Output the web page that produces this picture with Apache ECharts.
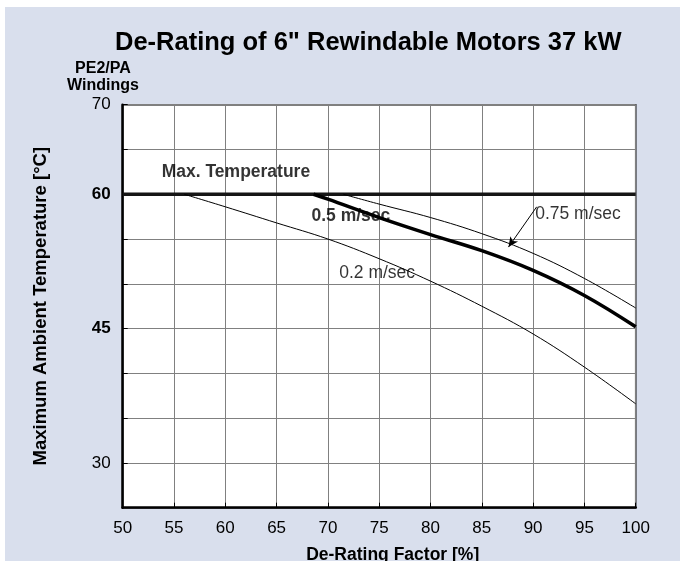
<!DOCTYPE html>
<html><head><meta charset="utf-8">
<script src="https://cdn.jsdelivr.net/npm/echarts@6/dist/echarts.min.js"></script>
<style>
html,body{margin:0;padding:0;background:#fff;}
#c{position:absolute;left:5px;top:7px;width:675px;height:554px;}
</style>
</head><body><div id="c"></div>
<script>
// ---- data ----
const titleText = 'De-Rating of 6" Rewindable Motors 37 kW';
const windingText = 'PE2/PA\nWindings';
const xName = 'De-Rating Factor [%]';
const yName = 'Maximum Ambient Temperature [°C]';
const xMin = 50, xMax = 100, xStep = 5;
const yMin = 25, yMax = 70, yStep = 5;
const yShownLabels = [30, 45, 60, 70];
const yBoldLabels = [45, 60];

const maxTemp = [[50, 60], [100, 60]];
const speed02 = [[56, 60], [60, 58.6], [65, 56.8], [70, 55.0], [75, 52.8], [80, 50.3], [85, 47.5], [90, 44.4], [95, 40.7], [100, 36.6]];
const speed05 = [[68.6, 60], [70, 59.45], [75, 57.4], [80, 55.5], [85, 53.7], [90, 51.5], [95, 48.7], [100, 45.2]];
const speed075 = [[71.5, 60], [75, 58.9], [80, 57.4], [85, 55.6], [90, 53.4], [95, 50.6], [100, 47.3]];

const labelMax = {text: 'Max. Temperature', at: [53.8, 62.5], bold: true};
const label05 = {text: '0.5 m/sec', at: [68.4, 57.5], bold: true};
const label02 = {text: '0.2 m/sec', at: [71.1, 51.2], bold: false};
const label075 = {text: '0.75 m/sec', at: [90.2, 57.8], bold: false};
const arrow075 = [[90.35, 58.6], [87.6, 54.1]];

// ---- chart ----
const FONT = '"Liberation Sans", Arial, Helvetica, sans-serif';
const chart = echarts.init(document.getElementById('c'), null, {renderer: 'canvas'});

function labelPoint(l) {
  return {
    value: l.at,
    label: {
      show: true, position: 'right', distance: 0,
      formatter: l.text,
      fontFamily: FONT, fontSize: 17.5,
      fontWeight: l.bold ? 'bold' : 'normal',
      color: '#000'
    }
  };
}

const curveStyle = (w) => ({color: '#000', width: w});

chart.setOption({
  backgroundColor: '#d9dfed',
  animation: false,
  textStyle: {fontFamily: FONT},
  title: {
    text: titleText,
    left: 105, top: 18,
    textStyle: {fontFamily: FONT, fontSize: 25.5, fontWeight: 'bold', color: '#000'}
  },
  graphic: [{
    type: 'text', left: 62, top: 53,
    style: {text: windingText, font: 'bold 16px ' + FONT, fill: '#000', textAlign: 'center', lineHeight: 17}
  }],
  grid: {
    left: 117.7, top: 97.7, right: 44.3, bottom: 53.3,
    containLabel: false, outerBoundsMode: 'none',
    show: true, backgroundColor: '#fff', borderColor: '#000', borderWidth: 1.5
  },
  xAxis: {
    type: 'value', min: xMin, max: xMax, interval: xStep,
    name: xName, nameLocation: 'middle', nameGap: 38,
    nameTextStyle: {fontFamily: FONT, fontSize: 17.5, fontWeight: 'bold', color: '#000', verticalAlign: 'top', padding: [0, 0, 0, 27]},
    axisLine: {show: true, lineStyle: {color: '#000', width: 2.5}},
    axisTick: {show: true, inside: true, length: 5, lineStyle: {color: '#000', width: 1}},
    axisLabel: {fontFamily: FONT, fontSize: 17, color: '#000', margin: 12},
    splitLine: {show: true, lineStyle: {color: '#808080', width: 1}}
  },
  yAxis: {
    type: 'value', min: yMin, max: yMax, interval: yStep,
    name: yName, nameLocation: 'middle', nameGap: 72,
    nameTextStyle: {fontFamily: FONT, fontSize: 18.5, fontWeight: 'bold', color: '#000'},
    axisLine: {show: true, lineStyle: {color: '#000', width: 2.5}},
    axisTick: {show: true, inside: true, length: 5, lineStyle: {color: '#000', width: 1}},
    axisLabel: {
      margin: 12, color: '#000', fontFamily: FONT, fontSize: 17,
      formatter: (v) => yShownLabels.includes(v) ? (yBoldLabels.includes(v) ? '{b|' + v + '}' : '{n|' + v + '}') : '',
      rich: {
        b: {fontFamily: FONT, fontSize: 17, fontWeight: 'bold', color: '#000'},
        n: {fontFamily: FONT, fontSize: 17, color: '#000'}
      }
    },
    splitLine: {show: true, lineStyle: {color: '#808080', width: 1}}
  },
  series: [
    {name: 'Max. Temperature', type: 'line', data: maxTemp, symbol: 'none', lineStyle: {color: '#151515', width: 3.5}, z: 3},
    {name: '0.2 m/sec', type: 'line', data: speed02, symbol: 'none', smooth: 0.4, lineStyle: curveStyle(1)},
    {name: '0.5 m/sec', type: 'line', data: speed05, symbol: 'none', smooth: 0.4, lineStyle: curveStyle(3.5)},
    {name: '0.75 m/sec', type: 'line', data: speed075, symbol: 'none', smooth: 0.4, lineStyle: curveStyle(1),
      markLine: {
        silent: true, symbol: ['none', 'arrow'], symbolSize: [7, 10],
        label: {show: false},
        lineStyle: {color: '#000', width: 1, type: 'solid'},
        data: [[{coord: arrow075[0]}, {coord: arrow075[1]}]]
      }
    },
    {name: 'labels', type: 'scatter', symbolSize: 0, silent: true, z: 5,
      data: [labelMax, label05, label02, label075].map(labelPoint)}
  ]
});
</script>
</body></html>
